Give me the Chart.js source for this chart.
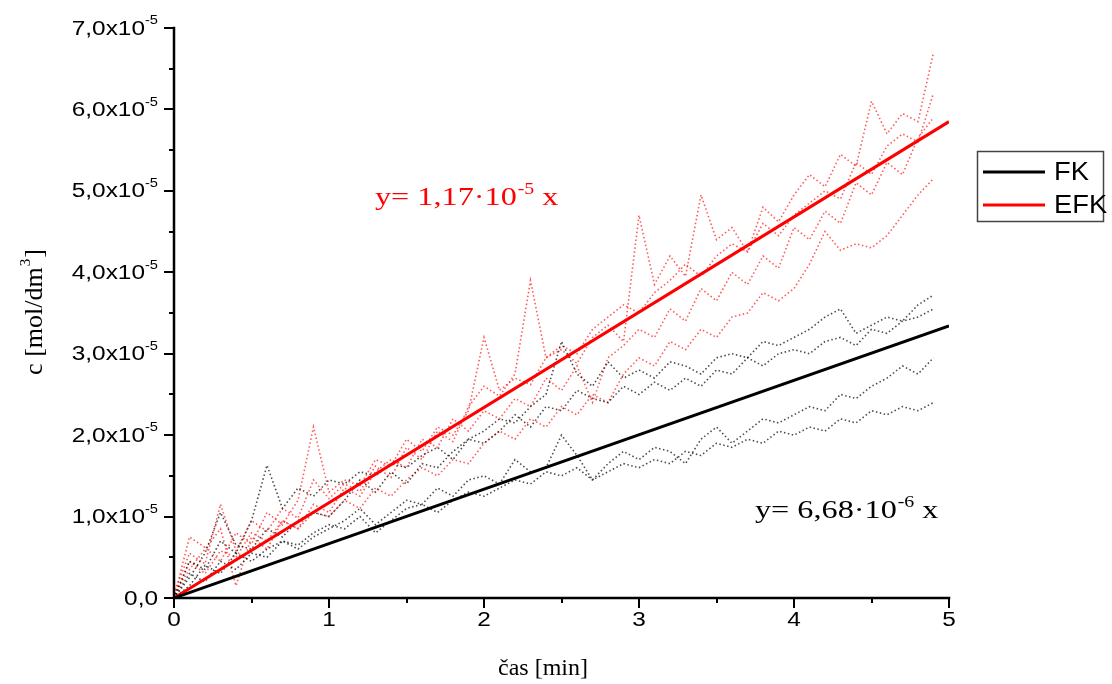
<!DOCTYPE html>
<html>
<head>
<meta charset="utf-8">
<script src="https://cdn.jsdelivr.net/npm/chart.js@4.4.0/dist/chart.umd.min.js"></script>
<style>
    html, body { margin: 0; padding: 0; background: #fff; }
    #wrap { width: 1112px; height: 684px; position: relative; }
</style>
</head>
<body>
<div id="wrap"><canvas id="grafKinetika"></canvas></div>
<script>
// čas [min]
const casMin = [0.0, 0.1, 0.2, 0.3, 0.4, 0.5, 0.6, 0.7, 0.8, 0.9,
                1.0, 1.1, 1.2, 1.3, 1.4, 1.5, 1.6, 1.7, 1.8, 1.9,
                2.0, 2.1, 2.2, 2.3, 2.4, 2.5, 2.6, 2.7, 2.8, 2.9,
                3.0, 3.1, 3.2, 3.3, 3.4, 3.5, 3.6, 3.7, 3.8, 3.9,
                4.0, 4.1, 4.2, 4.3, 4.4, 4.5, 4.6, 4.7, 4.8, 4.9];

// koncentracija, v enotah 10^-5 mol/dm3
const efk1 = [0.05, 0.55, 0.42, 1.15, 0.58, 0.95, 0.82, 1.10, 0.98, 1.45,
              1.22, 1.40, 1.31, 1.62, 1.48, 1.85, 1.70, 2.05, 1.92, 2.35,
              2.60, 2.48, 2.75, 3.90, 2.95, 3.05, 2.88, 3.20, 3.35, 3.15,
              4.70, 3.85, 4.20, 3.95, 4.95, 4.40, 4.55, 4.25, 4.80, 4.62,
              4.95, 5.20, 5.05, 5.45, 5.30, 6.10, 5.70, 5.95, 5.85, 6.70];
const efk2 = [0.00, 0.75, 0.62, 0.45, 0.80, 0.66, 1.05, 0.90, 1.20, 2.10,
              1.30, 1.45, 1.38, 1.70, 1.62, 1.95, 1.80, 2.10, 2.00, 2.30,
              3.20, 2.55, 2.70, 2.62, 2.95, 3.10, 3.00, 3.30, 3.45, 3.60,
              3.50, 3.75, 3.90, 4.10, 3.95, 4.20, 4.35, 4.25, 4.60, 4.45,
              4.70, 4.85, 5.00, 4.90, 5.35, 5.20, 5.55, 5.70, 5.60, 6.20];
const efk3 = [0.05, 0.35, 0.60, 0.85, 0.15, 0.75, 0.60, 0.95, 0.85, 1.15,
              1.05, 1.35, 1.25, 1.55, 1.70, 1.60, 1.95, 1.85, 2.20, 2.05,
              2.30, 2.20, 2.45, 2.35, 2.70, 2.55, 2.85, 2.40, 2.95, 3.10,
              3.30, 3.20, 3.55, 3.40, 3.80, 3.65, 4.00, 3.85, 4.20, 4.05,
              4.55, 4.40, 4.75, 4.60, 5.10, 4.95, 5.35, 5.20, 5.65, 5.90];
const efk4 = [0.00, 0.45, 0.30, 0.58, 0.50, 0.80, 0.70, 0.95, 0.85, 1.05,
              1.00, 1.20, 1.10, 1.35, 1.25, 1.45, 1.60, 1.50, 1.70, 1.65,
              1.90, 2.05, 1.95, 2.20, 2.10, 2.35, 2.25, 2.50, 2.40, 2.75,
              2.95, 2.85, 3.15, 3.05, 3.30, 3.20, 3.45, 3.50, 3.75, 3.65,
              3.80, 4.10, 4.50, 4.27, 4.35, 4.30, 4.45, 4.70, 4.95, 5.15];

const fk1 = [0.00, 0.45, 0.35, 0.70, 0.55, 0.95, 1.63, 1.10, 1.35, 1.25,
             1.45, 1.40, 1.55, 1.50, 1.65, 1.60, 1.75, 1.85, 1.70, 1.95,
             2.05, 2.20, 2.15, 2.35, 2.50, 3.15, 2.75, 2.60, 2.90, 2.70,
             2.80, 2.70, 2.90, 2.85, 2.75, 2.95, 3.00, 2.95, 3.15, 3.10,
             3.20, 3.30, 3.45, 3.55, 3.25, 3.35, 3.45, 3.40, 3.60, 3.72];
const fk2 = [0.00, 0.25, 0.55, 1.05, 0.65, 0.60, 0.85, 0.75, 0.95, 1.05,
             1.00, 1.20, 1.45, 1.30, 1.55, 1.40, 1.65, 1.60, 1.80, 1.95,
             1.90, 2.05, 2.25, 2.10, 2.35, 2.30, 2.55, 2.45, 2.40, 2.60,
             2.50, 2.65, 2.55, 2.70, 2.60, 2.80, 2.75, 2.95, 2.85, 3.00,
             3.05, 3.00, 3.15, 3.20, 3.10, 3.30, 3.25, 3.40, 3.45, 3.55];
const fk3 = [0.00, 0.30, 0.20, 0.45, 0.35, 0.55, 0.50, 0.70, 0.60, 0.75,
             0.85, 0.95, 1.10, 0.90, 1.05, 1.20, 1.15, 1.35, 1.25, 1.45,
             1.50, 1.40, 1.70, 1.55, 1.60, 2.00, 1.75, 1.45, 1.65, 1.80,
             1.70, 1.85, 1.80, 1.65, 1.95, 2.10, 1.90, 2.05, 2.20, 2.15,
             2.25, 2.35, 2.30, 2.50, 2.45, 2.60, 2.70, 2.85, 2.75, 2.95];
const fk4 = [0.00, 0.15, 0.40, 0.30, 0.55, 0.45, 0.60, 0.70, 0.65, 0.80,
             0.90, 0.85, 1.00, 0.80, 0.95, 1.10, 1.15, 1.05, 1.20, 1.30,
             1.25, 1.35, 1.45, 1.40, 1.55, 1.50, 1.60, 1.45, 1.55, 1.65,
             1.60, 1.70, 1.65, 1.80, 1.75, 1.90, 1.85, 1.95, 1.90, 2.05,
             2.00, 2.10, 2.05, 2.20, 2.15, 2.30, 2.25, 2.35, 2.30, 2.40];

// linearni fit (y = k x)
const fitX = [0, 5];
const fitFK = [0, 3.34];
const fitEFK = [0, 5.85];

const xTicks = [0, 1, 2, 3, 4, 5];
const yTicks = [0, 1, 2, 3, 4, 5, 6, 7];
const yLabels = ['0,0', '1,0x10', '2,0x10', '3,0x10', '4,0x10', '5,0x10', '6,0x10', '7,0x10'];

function toPts(xs, ys) {
    return ys.map((v, i) => ({ x: xs[i], y: v }));
}

function pikcasta(data, barva) {
    return {
        data: toPts(casMin, data),
        borderColor: barva,
        borderWidth: 1.6,
        borderDash: [1.5, 2.5],
        pointRadius: 0,
        fill: false,
        tension: 0,
        order: 2
    };
}

// tekst s horizontalnim raztegom (original je raztegnjen)
function napis(ctx, txt, x, y, font, sx, align) {
    ctx.save();
    ctx.font = font;
    const w = ctx.measureText(txt).width * sx;
    let x0 = x;
    if (align === 'right') x0 = x - w;
    if (align === 'center') x0 = x - w / 2;
    ctx.translate(x0, y);
    ctx.scale(sx, 1);
    ctx.textAlign = 'left';
    ctx.fillText(txt, 0, 0);
    ctx.restore();
    return w;
}

function sirina(ctx, txt, font, sx) {
    ctx.save();
    ctx.font = font;
    const w = ctx.measureText(txt).width * sx;
    ctx.restore();
    return w;
}

function enacba(ctx, x, y, osnova, eks, barva) {
    const f1 = '26px "Liberation Serif"';
    const f2 = '16px "Liberation Serif"';
    const sx = 1.24;
    ctx.fillStyle = barva;
    ctx.textBaseline = 'alphabetic';
    let cx = x;
    cx += napis(ctx, osnova, cx, y, f1, sx, 'left');
    cx += napis(ctx, eks, cx + 1, y - 11, f2, sx, 'left') + 1;
    napis(ctx, ' x', cx, y, f1, sx, 'left');
}

const osiPlugin = {
    id: 'osi',
    afterDraw(chart) {
        const ctx = chart.ctx;
        const xs = chart.scales.x;
        const ys = chart.scales.y;
        const ca = chart.chartArea;

        ctx.save();
        ctx.strokeStyle = '#000';
        ctx.lineWidth = 2.5;
        ctx.lineCap = 'square';
        ctx.beginPath();
        ctx.moveTo(ca.left, ca.top);
        ctx.lineTo(ca.left, ca.bottom);
        ctx.lineTo(ca.right, ca.bottom);
        ctx.stroke();

        // kljukice
        ctx.lineWidth = 2;
        ctx.lineCap = 'butt';
        ctx.beginPath();
        for (let v = 0; v <= 7.001; v += 0.5) {
            const py = Math.round(ys.getPixelForValue(v));
            const len = (Math.abs(v - Math.round(v)) < 0.01) ? 10 : 5;
            ctx.moveTo(ca.left, py);
            ctx.lineTo(ca.left - len, py);
        }
        for (let v = 0; v <= 5.001; v += 0.5) {
            const px = Math.round(xs.getPixelForValue(v));
            const len = (Math.abs(v - Math.round(v)) < 0.01) ? 10 : 5;
            ctx.moveTo(px, ca.bottom);
            ctx.lineTo(px, ca.bottom + len);
        }
        ctx.stroke();

        // oznake y
        const fTick = '20px "Liberation Sans"';
        const fSup = '12px "Liberation Sans"';
        const sx = 1.22;
        ctx.fillStyle = '#000';
        ctx.textBaseline = 'middle';
        yTicks.forEach((v, i) => {
            const py = ys.getPixelForValue(v);
            const desno = ca.left - 16;
            if (v === 0) {
                napis(ctx, yLabels[i], desno, py + 1, fTick, sx, 'right');
            } else {
                const ws = sirina(ctx, '-5', fSup, sx);
                napis(ctx, '-5', desno - ws, py - 7, fSup, sx, 'left');
                napis(ctx, yLabels[i], desno - ws, py + 1, fTick, sx, 'right');
            }
        });

        // oznake x
        xTicks.forEach(v => {
            const px = xs.getPixelForValue(v);
            napis(ctx, String(v), px, ca.bottom + 22, fTick, sx, 'center');
        });

        // naslov osi x
        ctx.textBaseline = 'alphabetic';
        napis(ctx, 'čas [min]', 543, 675, '24px "Liberation Serif"', 1.0, 'center');

        // naslov osi y
        ctx.save();
        ctx.translate(42, 312);
        ctx.rotate(-Math.PI / 2);
        const fT = '26px "Liberation Serif"';
        const fT2 = '15px "Liberation Serif"';
        ctx.font = fT;
        const a = ctx.measureText('c [mol/dm').width;
        ctx.font = fT2;
        const b = ctx.measureText('3').width;
        ctx.font = fT;
        const c = ctx.measureText(']').width;
        let sx0 = -(a + b + c + 2) / 2;
        ctx.fillText('c [mol/dm', sx0, 0);
        ctx.font = fT2;
        ctx.fillText('3', sx0 + a + 1, -12);
        ctx.font = fT;
        ctx.fillText(']', sx0 + a + b + 2, 0);
        ctx.restore();

        // enačbi
        enacba(ctx, 375, 205, 'y= 1,17·10', '-5', '#ff0000');
        enacba(ctx, 755, 518, 'y= 6,68·10', '-6', '#000000');

        // legenda
        ctx.strokeStyle = '#444';
        ctx.lineWidth = 1.5;
        ctx.strokeRect(977.5, 151.5, 126, 70);
        ctx.lineWidth = 3;
        ctx.strokeStyle = '#000';
        ctx.beginPath();
        ctx.moveTo(983, 172);
        ctx.lineTo(1045, 172);
        ctx.stroke();
        ctx.strokeStyle = '#ff0000';
        ctx.beginPath();
        ctx.moveTo(983, 205);
        ctx.lineTo(1045, 205);
        ctx.stroke();
        ctx.fillStyle = '#000';
        ctx.textBaseline = 'middle';
        napis(ctx, 'FK', 1054, 173, '26px "Liberation Sans"', 1.05, 'left');
        napis(ctx, 'EFK', 1054, 206, '26px "Liberation Sans"', 1.05, 'left');

        ctx.restore();
    }
};

const ctx = document.getElementById('grafKinetika').getContext('2d');
new Chart(ctx, {
    type: 'line',
    data: {
        datasets: [
            pikcasta(fk1, 'rgba(0,0,0,0.7)'),
            pikcasta(fk2, 'rgba(0,0,0,0.7)'),
            pikcasta(fk3, 'rgba(0,0,0,0.7)'),
            pikcasta(fk4, 'rgba(0,0,0,0.7)'),
            pikcasta(efk1, 'rgba(255,0,0,0.65)'),
            pikcasta(efk2, 'rgba(255,0,0,0.65)'),
            pikcasta(efk3, 'rgba(255,0,0,0.65)'),
            pikcasta(efk4, 'rgba(255,0,0,0.65)'),
            {
                label: 'FK',
                data: toPts(fitX, fitFK),
                borderColor: '#000000',
                borderWidth: 3,
                pointRadius: 0,
                order: 0
            },
            {
                label: 'EFK',
                data: toPts(fitX, fitEFK),
                borderColor: '#ff0000',
                borderWidth: 3,
                pointRadius: 0,
                order: 0
            }
        ]
    },
    options: {
        responsive: true,
        maintainAspectRatio: false,
        animation: false,
        layout: { padding: { left: 174, right: 163, top: 28, bottom: 86 } },
        plugins: {
            legend: { display: false },
            tooltip: { enabled: false }
        },
        scales: {
            x: { type: 'linear', min: 0, max: 5, display: false },
            y: { type: 'linear', min: 0, max: 7, display: false }
        }
    },
    plugins: [osiPlugin]
});
</script>
</body>
</html>
